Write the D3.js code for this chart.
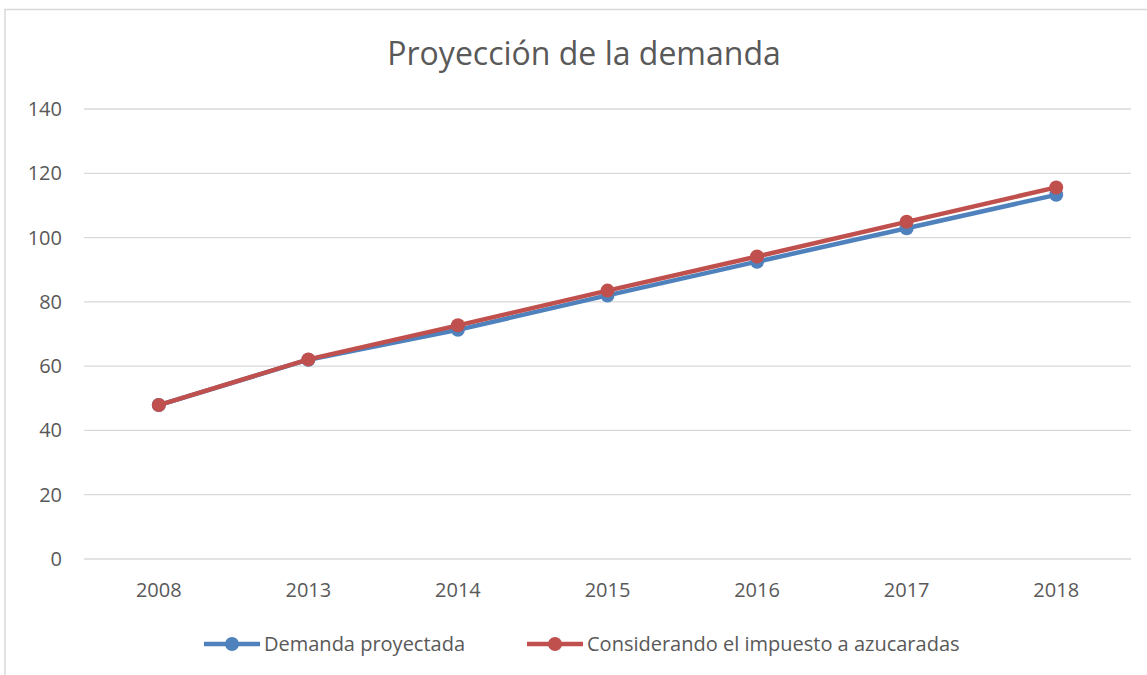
<!DOCTYPE html>
<html>
<head>
<meta charset="utf-8">
<script src="https://cdn.jsdelivr.net/npm/d3@7"></script>
<style>
  body { margin: 0; background: #fff; }
  text { font-family: "Open Sans", "Noto Sans", sans-serif; fill: #595959; }
</style>
</head>
<body>
<div id="chart"></div>
<script>
const years = ['2008', '2013', '2014', '2015', '2016', '2017', '2018'];
const demandaProyectada = [47.9, 62.0, 71.3, 82.0, 92.5, 102.9, 113.3];
const conImpuesto = [47.9, 62.1, 72.7, 83.5, 94.1, 104.9, 115.6];
const yTicks = [0, 20, 40, 60, 80, 100, 120, 140];
const seriesNames = ['Demanda proyectada', 'Considerando el impuesto a azucaradas'];

const width = 1147, height = 675;
const blue = '#4f81bd', red = '#c0504d';

const svg = d3.select('#chart').append('svg')
    .attr('width', width)
    .attr('height', height);

// chart border (only top and left visible in the crop)
svg.append('path')
    .attr('d', 'M5,675 L5,9.5 L1147,9.5')
    .attr('fill', 'none')
    .attr('stroke', '#d9d9d9')
    .attr('stroke-width', 1.5);

const x = d3.scaleBand().domain(years).range([84, 1131]);
const y = d3.scaleLinear().domain([0, 140]).range([559, 109]);

// gridlines
svg.append('g').selectAll('line')
    .data(yTicks)
    .enter().append('line')
    .attr('x1', 84).attr('x2', 1131)
    .attr('y1', d => y(d)).attr('y2', d => y(d))
    .attr('stroke', '#d9d9d9')
    .attr('stroke-width', 1.3);

// y labels
svg.append('g').selectAll('text')
    .data(yTicks)
    .enter().append('text')
    .attr('x', 62)
    .attr('y', d => y(d))
    .attr('dy', '0.35em')
    .attr('text-anchor', 'end')
    .style('font-size', '20px')
    .text(d => d);

// x labels
svg.append('g').selectAll('text')
    .data(years)
    .enter().append('text')
    .attr('x', d => x(d) + x.bandwidth() / 2)
    .attr('y', 590)
    .attr('dy', '0.35em')
    .attr('text-anchor', 'middle')
    .style('font-size', '20px')
    .text(d => d);

// title
svg.append('text')
    .attr('x', 584)
    .attr('y', 54)
    .attr('dy', '0.35em')
    .attr('text-anchor', 'middle')
    .style('font-size', '32px')
    .text('Proyección de la demanda');

const line = d3.line()
    .x((d, i) => x(years[i]) + x.bandwidth() / 2)
    .y(d => y(d));

function drawSeries(vals, color) {
    svg.append('path')
        .datum(vals)
        .attr('d', line)
        .attr('fill', 'none')
        .attr('stroke', color)
        .attr('stroke-width', 4.5)
        .attr('stroke-linejoin', 'round');
    svg.append('g').selectAll('circle')
        .data(vals)
        .enter().append('circle')
        .attr('cx', (d, i) => x(years[i]) + x.bandwidth() / 2)
        .attr('cy', d => y(d))
        .attr('r', 7)
        .attr('fill', color);
}
drawSeries(demandaProyectada, blue);
drawSeries(conImpuesto, red);

// legend
const legendItems = [
    { name: seriesNames[0], color: blue, x0: 204 },
    { name: seriesNames[1], color: red, x0: 527 }
];
const lg = svg.append('g').selectAll('g')
    .data(legendItems)
    .enter().append('g');
lg.append('line')
    .attr('x1', d => d.x0).attr('x2', d => d.x0 + 56)
    .attr('y1', 644).attr('y2', 644)
    .attr('stroke', d => d.color)
    .attr('stroke-width', 4.5);
lg.append('circle')
    .attr('cx', d => d.x0 + 28)
    .attr('cy', 644)
    .attr('r', 7)
    .attr('fill', d => d.color);
lg.append('text')
    .attr('x', d => d.x0 + 60)
    .attr('y', 644)
    .attr('dy', '0.35em')
    .style('font-size', '20px')
    .text(d => d.name);
</script>
</body>
</html>
